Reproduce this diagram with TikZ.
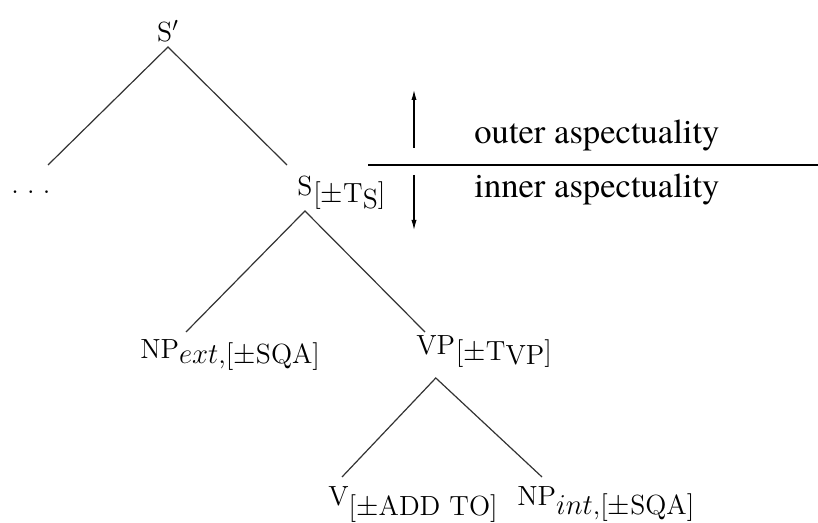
\documentclass[tikz,border=0pt]{standalone}
\usepackage{fontspec}
\newfontfamily\aspfont{TeX Gyre Termes}
\usetikzlibrary{arrows.meta}
\newcommand\lowr[2]{\raisebox{-#1}{#2}}
\begin{document}
\begin{tikzpicture}[x=0.5pt,y=-0.5pt,
  lab/.style={inner sep=0pt, font=\fontsize{13.85pt}{16pt}\selectfont},
  asp/.style={inner sep=0pt, anchor=base west, font=\aspfont\fontsize{17.3pt}{20pt}\selectfont},
  branch/.style={line width=0.6pt, draw=black!80},
  levelarrow/.style={line width=0.55pt, -{Latex[length=5pt,width=2.6pt]}},
  divider/.style={line width=0.8pt}]
\useasboundingbox (0,0) rectangle (818,523);
% top node
\node (sp) [lab, anchor=base, inner ysep=2pt] at (168,42) {S$'$};
\node (dots) [lab, anchor=base] at (31,194) {.\hspace{4.1pt}.\hspace{4.1pt}.};
\node (sS) [lab, anchor=base west, inner ysep=7pt] at (297,196) {S};
\node (sSsub) [lab, anchor=base west] at (sS.base east) {\lowr{3.5pt}{[$\pm$T\lowr{3pt}{S}]}};
\coordinate (cdots) at (48,165);
\coordinate (cs) at (287,165);
\draw[branch] (cdots) -- (sp.south) -- (cs);
% S subtree
\node (np1) [lab, anchor=base west] at (140,358) {NP\lowr{2.5pt}{$ext$,[$\pm$SQA]}};
\node (vp) [lab, anchor=base west, inner ysep=11.5pt] at (416,354) {VP};
\node (vpsub) [lab, anchor=base west] at (vp.base east) {\lowr{3pt}{[$\pm$T\lowr{2.5pt}{VP}]}};
\coordinate (cnp1) at (186,332);
\coordinate (cvp) at (425,332);
\draw[branch] (cnp1) -- (sS.south) -- (cvp);
% VP subtree
\node (v) [lab, anchor=base west] at (328,505) {V\lowr{5pt}{[$\pm$ADD TO]}};
\node (np2) [lab, anchor=base west] at (517,505) {NP\lowr{4.5pt}{$int$,[$\pm$SQA]}};
\coordinate (cv) at (342,477);
\coordinate (cnp2) at (542,477);
\draw[branch] (cv) -- (vp.south) -- (cnp2);
% aspectuality divider
\coordinate (hl1) at (368,165);
\coordinate (hl2) at (818,165);
\draw[divider] (hl1) -- (hl2);
\coordinate (au1) at (414,148);
\coordinate (au2) at (414,90);
\coordinate (ad1) at (414,175);
\coordinate (ad2) at (414,230);
\draw[levelarrow] (au1) -- (au2);
\draw[levelarrow] (ad1) -- (ad2);
\node (outer) [asp] at (474,144) {outer aspectuality};
\node (inner) [asp] at (474,198) {inner aspectuality};
\end{tikzpicture}
\end{document}
